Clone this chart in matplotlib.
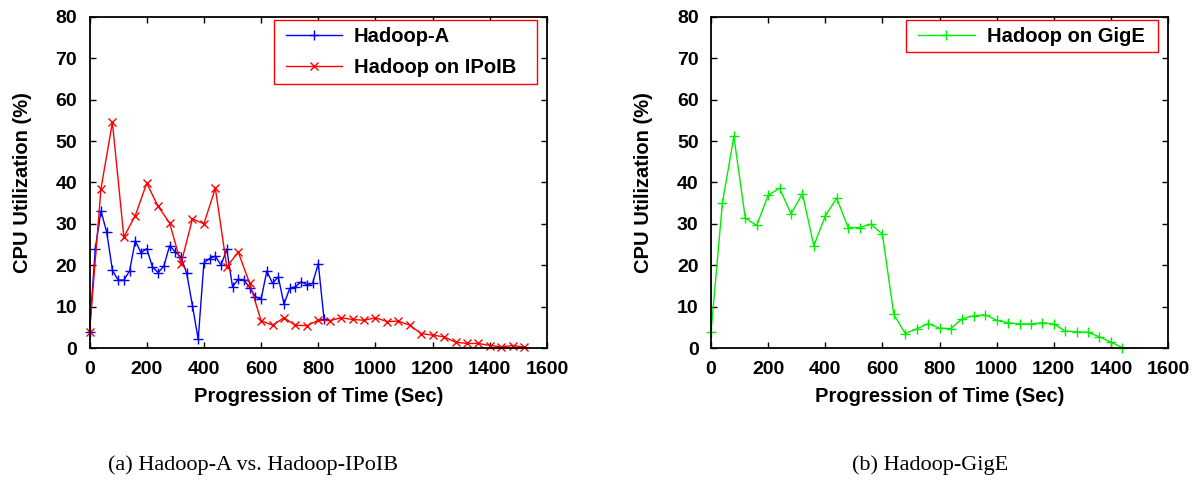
import matplotlib
matplotlib.use("Agg")
import matplotlib.pyplot as plt
from matplotlib.path import Path
from matplotlib.ticker import MultipleLocator

# Hadoop-A: sampled every 20 s
hadoop_a_t = list(range(0, 840, 20))
hadoop_a_cpu = [3.9, 23.9, 33.1, 28.0, 18.8, 16.4, 16.4, 18.6, 25.9, 23.0,
                24.0, 19.6, 18.2, 19.8, 24.7, 23.2, 22.0, 18.0, 10.2, 2.1,
                20.6, 21.6, 22.2, 20.0, 23.9, 14.8, 16.6, 16.4, 14.6, 12.4,
                11.8, 18.6, 15.6, 17.2, 10.6, 14.4, 14.8, 16.0, 15.3, 15.6,
                20.4, 7.1]

# Hadoop on IPoIB: sampled every 40 s
ipoib_t = list(range(0, 1560, 40))
ipoib_cpu = [3.9, 38.5, 54.5, 26.8, 32.0, 39.8, 34.2, 30.2, 20.4, 31.2,
             30.0, 38.6, 19.6, 23.2, 15.6, 6.6, 5.5, 7.3, 5.5, 5.4,
             6.7, 6.6, 7.3, 6.9, 6.7, 7.3, 6.4, 6.5, 5.5, 3.5,
             3.1, 2.7, 1.4, 1.1, 1.1, 0.6, 0.3, 0.6, 0.2]

# Hadoop on GigE: sampled every 40 s
gige_t = list(range(0, 1480, 40))
gige_cpu = [3.9, 35.1, 51.1, 31.4, 29.6, 36.9, 38.6, 32.4, 37.3, 24.7,
            31.9, 36.2, 29.1, 29.1, 29.9, 27.5, 8.1, 3.5, 4.6, 5.9,
            4.8, 4.7, 7.1, 7.8, 8.0, 6.7, 6.1, 5.8, 5.8, 6.1,
            5.8, 4.1, 3.9, 3.8, 2.7, 1.4, 0.1]

captions = ["(a) Hadoop-A vs. Hadoop-IPoIB", "(b) Hadoop-GigE"]

BOLD = dict(family="Liberation Sans", fontweight="bold")


def style_axis(ax):
    ax.set_xlim(0, 1600)
    ax.set_ylim(0, 80)
    ax.xaxis.set_major_locator(MultipleLocator(200))
    ax.yaxis.set_major_locator(MultipleLocator(10))
    ax.tick_params(direction="in", top=True, right=True, length=4.5, width=1,
                   labelsize=14, pad=9)
    for lab in ax.get_xticklabels() + ax.get_yticklabels():
        lab.set_fontfamily("Liberation Sans")
        lab.set_fontweight("bold")
    for sp in ax.spines.values():
        sp.set_linewidth(1.3)
    ax.set_xlabel("Progression of Time (Sec)", fontsize=14.5, labelpad=7, **BOLD)
    ax.set_ylabel("CPU Utilization (%)", fontsize=14.5, labelpad=17, **BOLD)


def wide_box(extra_left, extra_right):
    # plain square frame, a bit wider than the legend contents (gnuplot key look)
    def box(x0, y0, width, height, mutation_size):
        xl = x0 - extra_left * mutation_size
        xr = x0 + width + extra_right * mutation_size
        y1 = y0 + height
        return Path([(xl, y0), (xr, y0), (xr, y1), (xl, y1), (xl, y0)], closed=True)
    return box


def add_legend(ax, anchor_x, extra_right):
    leg = ax.legend(loc="upper right", bbox_to_anchor=(anchor_x, 0.99),
                    borderaxespad=0,
                    prop={"family": "Liberation Sans", "weight": "bold", "size": 14.5},
                    fancybox=False, framealpha=1, edgecolor="red",
                    handlelength=2.8, handletextpad=0.6, borderpad=0.33,
                    labelspacing=0.62)
    leg.get_frame().set_linewidth(1.0)
    leg.get_frame().set_boxstyle(wide_box(0.25, extra_right))


fig = plt.figure(figsize=(11.97, 4.82), dpi=100)
ax1 = fig.add_axes([0.0748, 0.278, 0.3822, 0.687])
ax2 = fig.add_axes([0.594, 0.278, 0.3818, 0.687])

ax1.plot(hadoop_a_t, hadoop_a_cpu, color="blue", marker="+", markersize=6.5,
         markeredgewidth=1, linewidth=1, label="Hadoop-A", clip_on=False)
ax1.plot(ipoib_t, ipoib_cpu, color="red", marker="x", markersize=6,
         markeredgewidth=1, linewidth=1, label="Hadoop on IPoIB", clip_on=False)
style_axis(ax1)
add_legend(ax1, 0.9475, 0.7)

ax2.plot(gige_t, gige_cpu, color="#00ee00", marker="+", markersize=6.5,
         markeredgewidth=1, linewidth=1, label="Hadoop on GigE", clip_on=False)
style_axis(ax2)
add_legend(ax2, 0.963, 0.35)

fig.text(0.211, 0.036, captions[0], family="Liberation Serif", fontsize=16,
         ha="center", va="center")
fig.text(0.777, 0.036, captions[1], family="Liberation Serif", fontsize=16,
         ha="center", va="center")

fig.savefig("out.png", dpi=100)
